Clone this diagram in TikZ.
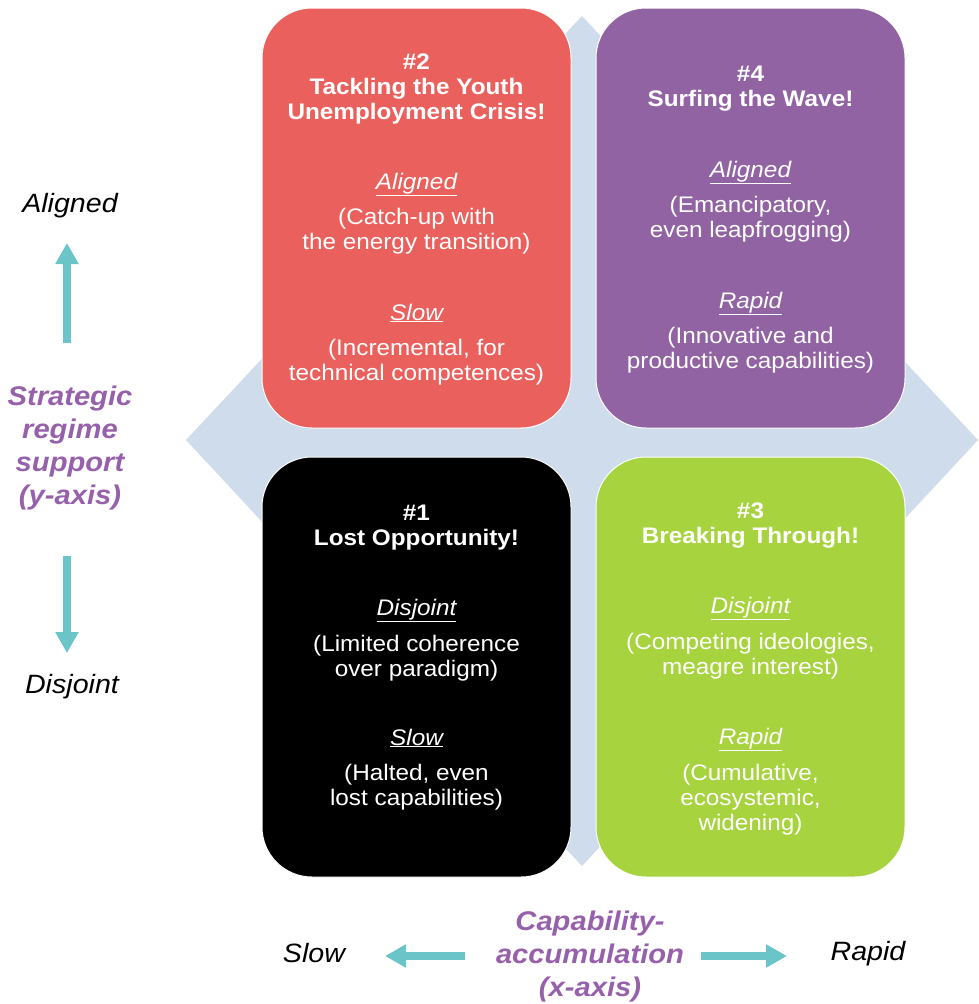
\documentclass[tikz,border=0pt]{standalone}
\usepackage{fontspec}
\setmainfont{Liberation Sans}[FakeStretch=1.08]
\usepackage{tikz}
\usetikzlibrary{arrows.meta, calc, positioning}

\definecolor{quadred}{RGB}{233,96,92}
\definecolor{quadpurple}{RGB}{145,99,163}
\definecolor{quadgreen}{RGB}{167,211,62}
\definecolor{diamondblue}{RGB}{207,220,236}
\definecolor{axisteal}{RGB}{106,196,200}
\definecolor{axispurple}{RGB}{150,96,170}

\tikzset{
	quad/.style={draw=white, line width=1pt, rounded corners=50pt, minimum width=309pt, minimum height=420pt},
	quadtitle/.style={anchor=north, inner sep=0pt, align=center, text=white, font=\bfseries\fontsize{22.5}{25}\selectfont},
	quadhead/.style={anchor=base, inner sep=0pt, text=white, font=\itshape\fontsize{22.5}{25}\selectfont},
	quadbody/.style={anchor=north, inner sep=0pt, align=center, text=white, font=\fontsize{22.5}{25}\selectfont},
	axislabel/.style={anchor=base, inner sep=0pt, font=\itshape\fontsize{26.5}{33}\selectfont},
	axistitle/.style={anchor=north, inner sep=0pt, align=center, text=axispurple, font=\bfseries\itshape\fontsize{27}{33}\selectfont},
	axisarrow/.style={draw=axisteal, line width=8pt, -{Triangle[width=22pt,length=21pt]}}
}

\newcommand{\uline}[1]{\underline{#1}}

\begin{document}
\begin{tikzpicture}[x=1pt,y=-1pt]
    							\useasboundingbox (0,0) rectangle (979,1004);

    							% background diamond
    							\coordinate (dl) at (186,440);
    							\coordinate (dt) at (582,16);
    							\coordinate (dr) at (978,440);
    							\coordinate (db) at (582,866);
    							\fill[diamondblue] (dl) -- (dt) -- (dr) -- (db) -- cycle;

    							% quadrants
    							\node[quad, fill=quadred] (q2) at (416.5,218) {};
    							\node[quad, fill=quadpurple] (q4) at (750.5,218) {};
    							\node[quad, fill=black] (q1) at (416.5,667) {};
    							\node[quad, fill=quadgreen] (q3) at (750.5,667) {};

    							% #2
							    \node[quadtitle] (t2) at (416.5,51.5) {\strut\#2\\Tackling the Youth\\Unemployment Crisis!};
							    \node[quadhead] (h2a) at (416.5,189) {\uline{Aligned}};
							    \node[quadbody] (b2a) at (416.5,206.5) {\strut(Catch-up with\\the energy transition)};
							    \node[quadhead] (h2b) at (416.5,320) {\uline{Slow}};
							    \node[quadbody] (b2b) at (416.5,337.5) {\strut(Incremental, for\\technical competences)};

    							% #4
							    \node[quadtitle] (t4) at (750.5,63.5) {\strut\#4\\Surfing the Wave!};
							    \node[quadhead] (h4a) at (750.5,177) {\uline{Aligned}};
							    \node[quadbody] (b4a) at (750.5,194.5) {\strut(Emancipatory,\\even leapfrogging)};
							    \node[quadhead] (h4b) at (750.5,308) {\uline{Rapid}};
							    \node[quadbody] (b4b) at (750.5,325.5) {\strut(Innovative and\\productive capabilities)};

    							% #1
							    \node[quadtitle] (t1) at (416.5,502.5) {\strut\#1\\Lost Opportunity!};
							    \node[quadhead] (h1a) at (416.5,615) {\uline{Disjoint}};
							    \node[quadbody] (b1a) at (416.5,633.5) {\strut(Limited coherence\\over paradigm)};
							    \node[quadhead] (h1b) at (416.5,745) {\uline{Slow}};
							    \node[quadbody] (b1b) at (416.5,762.5) {\strut(Halted, even\\lost capabilities)};

    							% #3
							    \node[quadtitle] (t3) at (750.5,500.5) {\strut\#3\\Breaking Through!};
							    \node[quadhead] (h3a) at (750.5,613) {\uline{Disjoint}};
							    \node[quadbody] (b3a) at (750.5,631.5) {\strut(Competing ideologies,\\meagre interest)};
							    \node[quadhead] (h3b) at (750.5,744) {\uline{Rapid}};
							    \node[quadbody] (b3b) at (750.5,762.5) {\strut(Cumulative,\\ecosystemic,\\widening)};

    							% y-axis
							    \node[axislabel] (yhigh) at (70,212) {Aligned};
							    \node[axistitle] (ytitle) at (70,382) {\strut Strategic\\regime\\support\\(y-axis)};
							    \node[axislabel] (ylow) at (72,693) {Disjoint};
							    \coordinate (yup0) at (67,343);
							    \coordinate (yup1) at (67,243);
							    \coordinate (ydn0) at (67,556);
							    \coordinate (ydn1) at (67,653);
							    \draw[axisarrow] (yup0) -- (yup1);
							    \draw[axisarrow] (ydn0) -- (ydn1);

    							% x-axis
							    \node[axislabel] (xlow) at (314,962) {Slow};
							    \node[axistitle] (xtitle) at (590,907) {\strut Capability-\\accumulation\\(x-axis)};
							    \node[axislabel] (xhigh) at (868,960) {Rapid};
							    \coordinate (xlf0) at (465,956);
							    \coordinate (xlf1) at (385,956);
							    \coordinate (xrt0) at (701,956);
							    \coordinate (xrt1) at (787,956);
							    \draw[axisarrow] (xlf0) -- (xlf1);
							    \draw[axisarrow] (xrt0) -- (xrt1);
						  \end{tikzpicture}
\end{document}
